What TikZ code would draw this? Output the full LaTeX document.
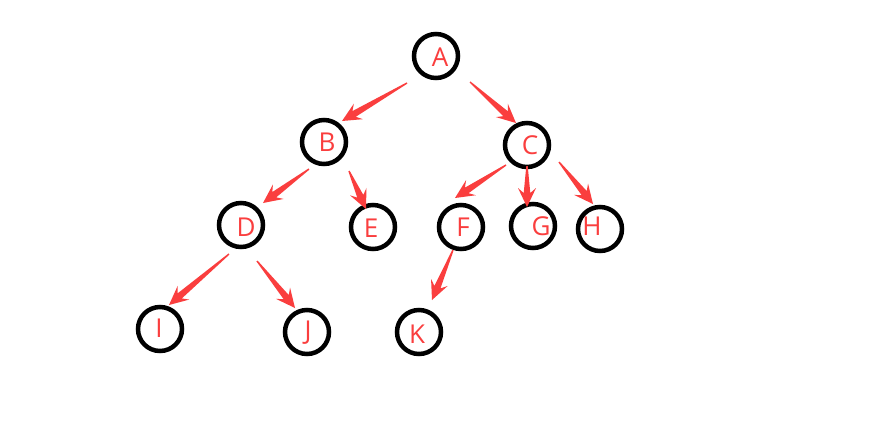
\documentclass[tikz,border=0pt]{standalone}
\usepackage{fontspec}
\setmainfont{Open Sans}
\usetikzlibrary{calc}
\definecolor{arrred}{RGB}{250,62,62}
\tikzset{
  circ/.style={circle, draw=black, line width=4.5pt, minimum size=44pt, inner sep=0pt},
  lbl/.style={text=arrred, font=\fontsize{26}{28}\selectfont, inner sep=0pt},
}
\newcommand{\tarr}[2]{%
  \coordinate (tmpn) at ($(#2)!14pt!(#1)$);
  \coordinate (tmpb) at ($(#2)!19pt!(#1)$);
  \fill[arrred] ($(#1)!0.7pt!90:(#2)$) -- ($(tmpn)!3.3pt!90:(#2)$) -- ($(tmpb)!9pt!90:(#2)$) -- (#2)
    -- ($(tmpb)!9pt!-90:(#2)$) -- ($(tmpn)!3.3pt!-90:(#2)$) -- ($(#1)!0.7pt!-90:(#2)$) -- cycle;
}
\begin{document}
\begin{tikzpicture}[x=1pt,y=-1pt]
\useasboundingbox[fill=white] (0,0) rectangle (894,440);
% circles
\node[circ] (A) at (436,56) {};
\node[circ] (B) at (324,142) {};
\node[circ] (C) at (527,145) {};
\node[circ] (D) at (241,225) {};
\node[circ] (E) at (373,227) {};
\node[circ] (F) at (461,227) {};
\node[circ] (G) at (533,226) {};
\node[circ] (H) at (600,229) {};
\node[circ] (I) at (160,329) {};
\node[circ] (J) at (307,332) {};
\node[circ] (K) at (419,332) {};
% letters
\node[lbl] (tA) at (440,57) {A};
\node[lbl] (tB) at (327,142) {B};
\node[lbl] (tC) at (530,145) {C};
\node[lbl] (tD) at (246,227) {D};
\node[lbl] (tE) at (371,228) {E};
\node[lbl] (tF) at (463,227) {F};
\node[lbl] (tG) at (541,226) {G};
\node[lbl] (tH) at (592,226) {H};
\node[lbl] (tI) at (159,328) {I};
\node[lbl] (tJ) at (308,333) {J};
\node[lbl] (tK) at (417,334) {K};
% arrow ends
\coordinate (ABt) at (407,83);  \coordinate (ABh) at (342,121);
\coordinate (ACt) at (470,82);  \coordinate (ACh) at (516,123);
\coordinate (BDt) at (309,169); \coordinate (BDh) at (263,203);
\coordinate (BEt) at (349,171); \coordinate (BEh) at (366,209);
\coordinate (CFt) at (506,165); \coordinate (CFh) at (455,198);
\coordinate (CGt) at (527,166); \coordinate (CGh) at (527,207);
\coordinate (CHt) at (559,162); \coordinate (CHh) at (593,204);
\coordinate (DIt) at (229,254); \coordinate (DIh) at (169,305);
\coordinate (DJt) at (257,261); \coordinate (DJh) at (295,308);
\coordinate (FKt) at (453,250); \coordinate (FKh) at (432,300);
\tarr{ABt}{ABh}
\tarr{ACt}{ACh}
\tarr{BDt}{BDh}
\tarr{BEt}{BEh}
\tarr{CFt}{CFh}
\tarr{CGt}{CGh}
\tarr{CHt}{CHh}
\tarr{DIt}{DIh}
\tarr{DJt}{DJh}
\tarr{FKt}{FKh}
\end{tikzpicture}
\end{document}
